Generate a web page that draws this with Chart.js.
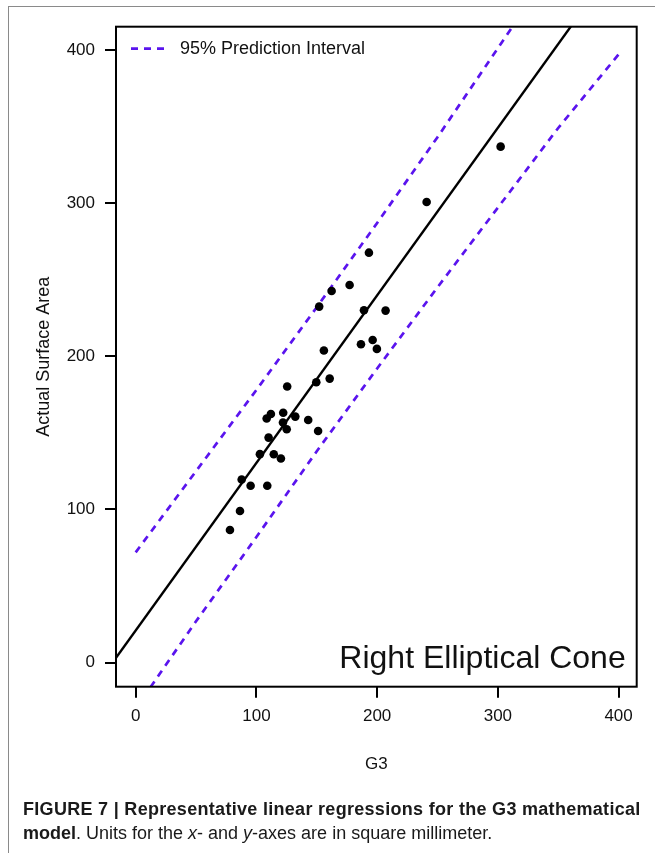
<!DOCTYPE html>
<html>
<head>
<meta charset="utf-8">
<script src="https://cdn.jsdelivr.net/npm/chart.js@4"></script>
<style>
  body { margin: 0; background: #fff; }
  #wrap { position: relative; width: 655px; height: 853px; overflow: hidden; font-family: 'Liberation Sans', Arial, sans-serif; }
  #frame { position: absolute; left: 8px; top: 6px; width: 700px; height: 900px; border-left: 1px solid #8a8a8a; border-top: 1px solid #8a8a8a; }
  canvas { position: absolute; left: 0; top: 0; }
  .cap { position: absolute; left: 23px; font-size: 18px; line-height: 21px; color: #1a1a1a; white-space: nowrap; }
</style>
</head>
<body>
<div id="wrap">
  <div id="frame"></div>
  <canvas id="chart" width="655" height="853"></canvas>
  <div class="cap" style="top:799px; letter-spacing:0.3px"><b>FIGURE 7 | Representative linear regressions for the G3 mathematical</b></div>
  <div class="cap" style="top:823px"><b>model</b>. Units for the <i>x</i>- and <i>y</i>-axes are in square millimeter.</div>
</div>
<script>
// measured points (G3 vs actual surface area)
const g3 = [193.2, 177.2, 162.3, 152.0, 189.1, 207.0, 196.3, 186.6, 199.8, 155.9, 149.6, 160.7, 125.5, 112.0, 108.5, 122.2,
  132.2, 122.0, 142.9, 125.1, 151.1, 110.1, 102.9, 114.4, 120.3, 87.8, 95.2, 109.0, 86.4, 78.1, 241.0, 302.3];
const actualArea = [267.6, 246.5, 242.6, 232.4, 230.0, 229.8, 210.6, 207.8, 204.8, 203.7, 183.0, 185.4, 180.2, 162.3, 159.4, 163.1,
  160.6, 156.7, 158.4, 152.3, 151.2, 146.9, 136.1, 136.0, 133.3, 119.5, 115.5, 115.5, 99.0, 86.6, 300.7, 336.8];

// regression line end points
const fitX = [-16.3, 400];
const fitY = [3.1, 458.5];

// 95% prediction interval
const piX = [0, 50, 100, 150, 200, 250, 300, 350, 400];
const piUpper = [72, 125, 178, 232, 287, 343, 401, 459, 517];
const piLower = [-30, 27, 82, 138, 192, 245, 297, 349, 397];

const xTicks = [0, 100, 200, 300, 400];
const yTicks = [0, 100, 200, 300, 400];

const FONT = '"Liberation Sans", Arial, sans-serif';
const piColor = '#5a14ee';

const toXY = (xs, ys) => xs.map((x, i) => ({ x: x, y: ys[i] }));

// box around the plot, legend and the panel label
const extras = {
  id: 'extras',
  afterDatasetsDraw(chart) {
    const { ctx, chartArea: a } = chart;
    const pi = chart.data.datasets[2];
    ctx.save();
    ctx.strokeStyle = '#000';
    ctx.lineWidth = 2;
    ctx.strokeRect(a.left, a.top, a.right - a.left, a.bottom - a.top);

    ctx.setLineDash(pi.borderDash);
    ctx.strokeStyle = pi.borderColor;
    ctx.lineWidth = pi.borderWidth;
    ctx.beginPath();
    ctx.moveTo(a.left + 15, a.top + 22);
    ctx.lineTo(a.left + 51, a.top + 22);
    ctx.stroke();
    ctx.setLineDash([]);

    ctx.fillStyle = '#111';
    ctx.font = '18px ' + FONT;
    ctx.textBaseline = 'middle';
    ctx.fillText(pi.label, a.left + 64, a.top + 22);

    ctx.font = '32px ' + FONT;
    ctx.textAlign = 'right';
    ctx.textBaseline = 'alphabetic';
    ctx.fillText('Right Elliptical Cone', a.right - 11, a.bottom - 19);
    ctx.restore();
  }
};

new Chart(document.getElementById('chart'), {
  type: 'scatter',
  data: {
    datasets: [
      {
        label: 'Observed',
        data: toXY(g3, actualArea),
        pointRadius: 4.3,
        pointBackgroundColor: '#000',
        pointBorderWidth: 0,
        order: 0
      },
      {
        label: 'Fit',
        data: toXY(fitX, fitY),
        showLine: true,
        pointRadius: 0,
        borderColor: '#000',
        borderWidth: 2.4,
        order: 1
      },
      {
        label: '95% Prediction Interval',
        data: toXY(piX, piUpper),
        showLine: true,
        pointRadius: 0,
        borderColor: piColor,
        borderWidth: 2.7,
        borderDash: [7, 6],
        order: 2
      },
      {
        label: '95% Prediction Interval (lower)',
        data: toXY(piX, piLower),
        showLine: true,
        pointRadius: 0,
        borderColor: piColor,
        borderWidth: 2.7,
        borderDash: [7, 6],
        order: 2
      }
    ]
  },
  options: {
    responsive: false,
    animation: false,
    layout: { padding: { left: 0, top: 26.7, right: 18.3, bottom: 66.3 } },
    plugins: { legend: { display: false }, tooltip: { enabled: false } },
    scales: {
      x: {
        type: 'linear',
        min: -16.3,
        max: 415,
        afterBuildTicks: s => { s.ticks = xTicks.map(v => ({ value: v })); },
        afterFit: s => { s.height = 100; },
        border: { display: false },
        grid: { drawOnChartArea: false, drawTicks: true, tickLength: 11, color: '#000', lineWidth: 2 },
        ticks: { color: '#111', font: { family: FONT, size: 17 }, padding: 8, maxRotation: 0 },
        title: { display: true, text: 'G3', color: '#111', font: { family: FONT, size: 17 }, padding: { top: 0, bottom: 12.4 } }
      },
      y: {
        type: 'linear',
        min: -15.7,
        max: 415.1,
        afterBuildTicks: s => { s.ticks = yTicks.map(v => ({ value: v })); },
        afterFit: s => { s.width = 116; },
        border: { display: false },
        grid: { drawOnChartArea: false, drawTicks: true, tickLength: 11, color: '#000', lineWidth: 2 },
        ticks: { color: '#111', font: { family: FONT, size: 17 }, padding: 10 },
        title: { display: true, text: 'Actual Surface Area', color: '#111', font: { family: FONT, size: 18 }, padding: { top: 33, bottom: 0 } }
      }
    }
  },
  plugins: [extras]
});
</script>
</body>
</html>
